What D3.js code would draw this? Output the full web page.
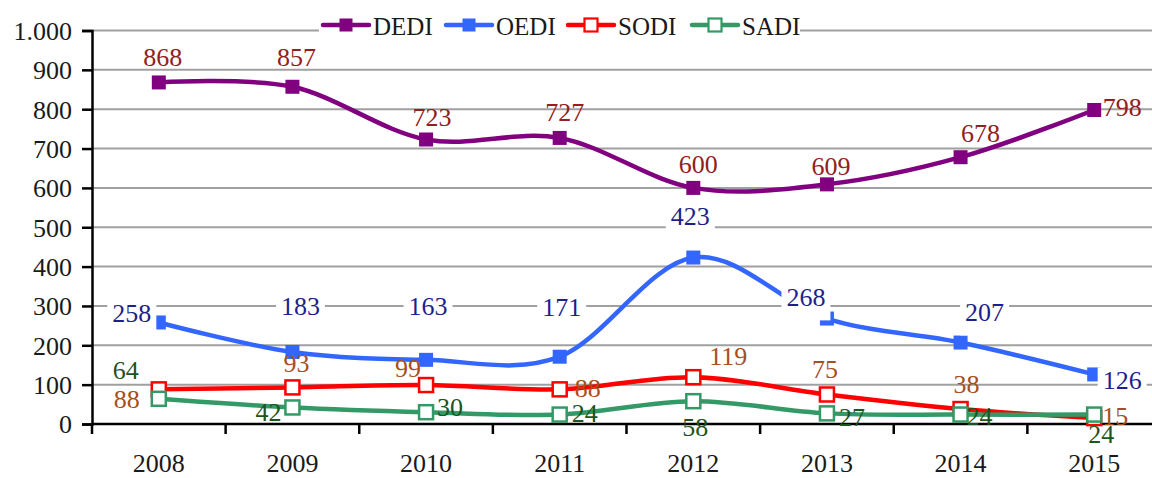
<!DOCTYPE html>
<html>
<head>
<meta charset="utf-8">
<script src="https://cdn.jsdelivr.net/npm/d3@7"></script>
<style>
  body { margin: 0; background: #fff; }
  svg { display: block; }
  svg text { font-family: "Liberation Serif", "Times New Roman", "DejaVu Serif", serif; }
</style>
</head>
<body>
<svg id="chart" width="1152" height="478"></svg>
<script>
// data
const years = ['2008', '2009', '2010', '2011', '2012', '2013', '2014', '2015'];
const dedi = [868, 857, 723, 727, 600, 609, 678, 798];
const oedi = [258, 183, 163, 171, 423, 268, 207, 126];
const sodi = [88, 93, 99, 88, 119, 75, 38, 15];
const sadi = [64, 42, 30, 24, 58, 27, 24, 24];
const yTicks = [0, 100, 200, 300, 400, 500, 600, 700, 800, 900, 1000];

// where each value label sits relative to its point (dx, dy)
const dediLabelPos = [[4, -25], [4, -30], [6, -22], [5, -26], [5, -24], [4, -18], [20, -24], [28, -3]];
const oediLabelPos = [[-27, -9], [8, -46], [2, -54], [2, -50], [-3, -41], [-21, -21], [24, -30], [28, 6]];
const sodiLabelPos = [[-32, 10], [4, -24], [-18, -17], [28, -1], [35, -21], [-2, -25], [6, -25], [21, -2]];
const sadiLabelPos = [[-33, -29], [-24, 5], [24, -5], [25, -1], [2, 26], [25, 4], [19, 2], [7, 20]];

const series = [
    { name: 'DEDI', values: dedi, color: '#800080', labelColor: '#922020', filled: true, labelPos: dediLabelPos, labelBg: false },
    { name: 'OEDI', values: oedi, color: '#3366ff', labelColor: '#1f1f8a', filled: true, labelPos: oediLabelPos, labelBg: true },
    { name: 'SODI', values: sodi, color: '#ff0000', labelColor: '#a5501e', filled: false, labelPos: sodiLabelPos, labelBg: false },
    { name: 'SADI', values: sadi, color: '#339966', labelColor: '#1e5420', filled: false, labelPos: sadiLabelPos, labelBg: false }
];

const svg = d3.select('#chart');
const margin = { left: 92, top: 30.5, bottom: 424 };
const numSize = 26;
const legendSize = 25;

const x = d3.scaleBand().domain(years).range([92, 1161]);
const y = d3.scaleLinear().domain([0, 1000]).range([424, 30.5]);
const cx = d => x(d) + x.bandwidth() / 2;

const locale = d3.formatLocale({ decimal: ',', thousands: '.', grouping: [3], currency: ['', ''] });
const fmt = locale.format(',');

// Gridlines
svg.append('g')
    .selectAll('line')
    .data(yTicks.filter(d => d > 0))
    .enter()
    .append('line')
    .attr('x1', margin.left)
    .attr('x2', 1152)
    .attr('y1', d => y(d))
    .attr('y2', d => y(d))
    .attr('stroke', '#a0a0a0')
    .attr('stroke-width', 2);

// Y axis
const yAxis = svg.append('g')
    .attr('transform', `translate(${margin.left},0)`)
    .call(d3.axisLeft(y).tickValues(yTicks).tickFormat(fmt).tickSize(10).tickPadding(10));
yAxis.attr('font-family', null).attr('font-size', null);
yAxis.select('.domain').attr('stroke', '#000').attr('stroke-width', 2.5);
yAxis.selectAll('.tick line').attr('stroke', '#000').attr('stroke-width', 2.5);
yAxis.selectAll('.tick text')
    .attr('fill', '#1a1a1a')
    .attr('dy', '0.34em')
    .style('font-size', numSize + 'px');

// X axis, ticks at category boundaries
const xAxis = svg.append('g')
    .attr('transform', `translate(0,${margin.bottom})`);
xAxis.append('line')
    .attr('x1', margin.left)
    .attr('x2', 1152)
    .attr('stroke', '#000')
    .attr('stroke-width', 2.5);
xAxis.selectAll('.xtick')
    .data(years)
    .enter()
    .append('line')
    .attr('class', 'xtick')
    .attr('x1', d => x(d))
    .attr('x2', d => x(d))
    .attr('y1', 0)
    .attr('y2', 10)
    .attr('stroke', '#000')
    .attr('stroke-width', 2.5);
xAxis.selectAll('.xlabel')
    .data(years)
    .enter()
    .append('text')
    .attr('class', 'xlabel')
    .attr('x', d => cx(d))
    .attr('y', 39)
    .attr('dy', '0.34em')
    .attr('text-anchor', 'middle')
    .attr('fill', '#1a1a1a')
    .style('font-size', numSize + 'px')
    .text(d => d);

// Smoothed lines like the spreadsheet original
const line = d3.line()
    .x((d, i) => cx(years[i]))
    .y(d => y(d))
    .curve(d3.curveCardinal.tension(0));

const markerSize = 14;

series.forEach(s => {
    const g = svg.append('g').attr('class', 'series-' + s.name);
    g.append('path')
        .datum(s.values)
        .attr('d', line)
        .attr('fill', 'none')
        .attr('stroke', s.color)
        .attr('stroke-width', 4.5)
        .attr('stroke-linejoin', 'round');

    g.selectAll('rect')
        .data(s.values)
        .enter()
        .append('rect')
        .attr('x', (d, i) => cx(years[i]) - markerSize / 2)
        .attr('y', d => y(d) - markerSize / 2)
        .attr('width', markerSize)
        .attr('height', markerSize)
        .attr('fill', s.filled ? s.color : '#fff')
        .attr('stroke', s.color)
        .attr('stroke-width', s.filled ? 0 : 2.5);
});

// Value labels
series.forEach(s => {
    const g = svg.append('g').attr('class', 'labels-' + s.name);
    s.values.forEach((v, i) => {
        const lx = cx(years[i]) + s.labelPos[i][0];
        const ly = y(v) + s.labelPos[i][1];
        const t = g.append('text')
            .attr('x', lx)
            .attr('y', ly)
            .attr('dy', '0.34em')
            .attr('text-anchor', 'middle')
            .attr('fill', s.labelColor)
            .style('font-size', numSize + 'px')
            .text(v);
        if (s.labelBg) {
            // white box behind the label, hides gridlines and line beneath
            const bb = t.node().getBBox();
            g.insert('rect', () => t.node())
                .attr('x', bb.x - 5)
                .attr('y', bb.y + 1)
                .attr('width', bb.width + 10)
                .attr('height', bb.height + 7)
                .attr('fill', '#fff');
        }
    });
});

// Legend
const legend = svg.append('g').attr('class', 'legend');
legend.append('rect')
    .attr('x', 319)
    .attr('y', 10)
    .attr('width', 481)
    .attr('height', 34)
    .attr('fill', '#fff');

const legendX = [323, 446, 568, 692];
series.forEach((s, i) => {
    const item = legend.append('g').attr('transform', `translate(${legendX[i]},25)`);
    item.append('line')
        .attr('x1', 0)
        .attr('x2', 46)
        .attr('stroke', s.color)
        .attr('stroke-width', 4.5)
        .attr('stroke-linecap', 'round');
    item.append('rect')
        .attr('x', 23 - 6.5)
        .attr('y', -6.5)
        .attr('width', 13)
        .attr('height', 13)
        .attr('fill', s.filled ? s.color : '#fff')
        .attr('stroke', s.color)
        .attr('stroke-width', s.filled ? 0 : 2.2);
    item.append('text')
        .attr('x', 50)
        .attr('y', 10)
        .attr('fill', '#1a1a1a')
        .style('font-size', legendSize + 'px')
        .text(s.name);
});
</script>
</body>
</html>
